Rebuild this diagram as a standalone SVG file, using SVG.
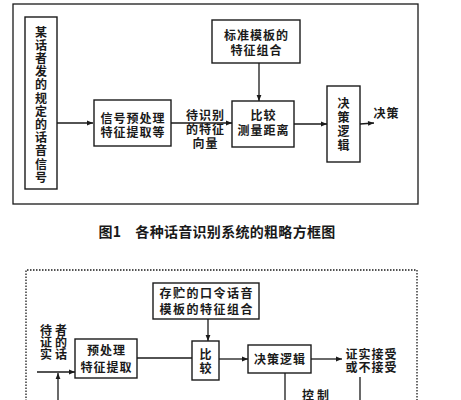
<svg xmlns="http://www.w3.org/2000/svg" width="461" height="400" viewBox="0 0 461 400">
<defs>
<style>
.t{font-family:"Noto Sans CJK SC","Noto Sans CJK JP",sans-serif;font-weight:700;fill:#1a1a1a;text-anchor:middle;font-size:12px;letter-spacing:1px}
.b{fill:#fff;stroke:#1a1a1a;stroke-width:1.4}
.l{fill:none;stroke:#1a1a1a;stroke-width:1.3}
.d{fill:none;stroke:#1a1a1a;stroke-width:1.3;stroke-dasharray:1.5 1.5}
</style>
<marker id="ah" viewBox="0 0 10 10" refX="10" refY="5" markerWidth="7" markerHeight="6" markerUnits="userSpaceOnUse" orient="auto">
<path d="M0,1 L10,5 L0,9 Z" fill="#1a1a1a"/>
</marker>
</defs>
<rect width="461" height="400" fill="#fff"/>

<g id="frame1"><rect x="13" y="4" width="405" height="200" class="l" stroke-width="1.6"/></g>

<g id="speech">
<rect x="25" y="17" width="32" height="172" class="b"/>
<text class="t" style="letter-spacing:0">
<tspan x="41" y="36.5">某</tspan><tspan x="41" y="49.7">话</tspan><tspan x="41" y="62.9">者</tspan><tspan x="41" y="76.1">发</tspan><tspan x="41" y="89.3">的</tspan><tspan x="41" y="102.5">规</tspan><tspan x="41" y="115.7">定</tspan><tspan x="41" y="128.9">的</tspan><tspan x="41" y="142.1">话</tspan><tspan x="41" y="155.3">音</tspan><tspan x="41" y="168.5">信</tspan><tspan x="41" y="181.7">号</tspan>
</text>
</g>

<g id="preproc1">
<rect x="94" y="100" width="77" height="46" class="b"/>
<text class="t"><tspan x="133" y="122.5">信号预处理</tspan><tspan x="133" y="137">特征提取等</tspan></text>
</g>

<g id="template1">
<rect x="212" y="20" width="88" height="43" class="b"/>
<text class="t"><tspan x="256.5" y="39.5">标准模板的</tspan><tspan x="256.5" y="54.5">特征组合</tspan></text>
</g>

<g id="compare1">
<rect x="232" y="101" width="62" height="46" class="b"/>
<text class="t"><tspan x="263.5" y="119.5">比较</tspan><tspan x="263.5" y="134.5">测量距离</tspan></text>
</g>

<g id="decision1">
<rect x="327" y="86" width="33" height="76" class="b"/>
<text class="t" style="letter-spacing:0"><tspan x="343.5" y="107.5">决</tspan><tspan x="343.5" y="121.5">策</tspan><tspan x="343.5" y="135.5">逻</tspan><tspan x="343.5" y="149.5">辑</tspan></text>
</g>

<g id="labels1">
<text class="t"><tspan x="205.5" y="119.5">待识别</tspan><tspan x="205.5" y="134">的特征</tspan><tspan x="205.5" y="147.5">向量</tspan></text>
<text class="t" x="386.5" y="117.5">决策</text>
</g>

<g id="caption"><text class="t" style="font-size:14px;letter-spacing:0.3px" x="217" y="237">图1<tspan dx="14">各种话音识别系统的粗略方框图</tspan></text></g>

<g id="frame2"><path d="M26,401 V270 H417 V401" class="d"/></g>

<g id="template2">
<rect x="153" y="283" width="106" height="36" class="b"/>
<text class="t" style="letter-spacing:1.5px"><tspan x="206.7" y="297.5">存贮的口令话音</tspan><tspan x="206.7" y="313.5">模板的特征组合</tspan></text>
</g>

<g id="preproc2">
<rect x="75" y="339" width="62" height="39" class="b"/>
<text class="t"><tspan x="106.5" y="354.5">预处理</tspan><tspan x="106.5" y="371.5">特征提取</tspan></text>
</g>

<g id="compare2">
<rect x="192" y="341" width="27" height="39" class="b"/>
<text class="t" style="letter-spacing:0"><tspan x="205.5" y="358.5">比</tspan><tspan x="205.5" y="372.5">较</tspan></text>
</g>

<g id="decision2">
<rect x="248" y="345" width="63" height="28" class="b"/>
<text class="t" x="280" y="363.5">决策逻辑</text>
</g>

<g id="labels2">
<text class="t" style="letter-spacing:0"><tspan x="46" y="334.5">待</tspan><tspan x="61" y="334.5">者</tspan><tspan x="46" y="346.5">证</tspan><tspan x="61" y="346.5">的</tspan><tspan x="46" y="359">实</tspan><tspan x="61" y="359">话</tspan></text>
<text class="t"><tspan x="371.5" y="359">证实接受</tspan><tspan x="371.5" y="371.5">或不接受</tspan></text>
<text class="t" style="letter-spacing:3px" x="317" y="400">控制</text>
</g>

<g id="connectors">
<line x1="57" y1="123" x2="93" y2="123" class="l" marker-end="url(#ah)"/>
<line x1="171" y1="123" x2="232" y2="123" class="l" marker-end="url(#ah)"/>
<line x1="259" y1="63" x2="259" y2="101" class="l" marker-end="url(#ah)"/>
<line x1="294" y1="124" x2="327" y2="124" class="l" marker-end="url(#ah)"/>
<line x1="360" y1="124" x2="374" y2="123" class="l" marker-end="url(#ah)"/>
<line x1="208" y1="319" x2="208" y2="341" class="l" marker-end="url(#ah)"/>
<line x1="37" y1="372" x2="75" y2="372" class="l" marker-end="url(#ah)"/>
<line x1="58" y1="401" x2="58" y2="373" class="l" marker-end="url(#ah)"/>
<line x1="137" y1="358" x2="192" y2="358" class="l"/>
<line x1="219" y1="359" x2="248" y2="359" class="l" marker-end="url(#ah)"/>
<line x1="311" y1="359" x2="342" y2="359" class="l" marker-end="url(#ah)"/>
<line x1="285" y1="373" x2="285" y2="401" class="l"/>
<line x1="360" y1="377" x2="360" y2="401" class="l"/>
</g>
</svg>
